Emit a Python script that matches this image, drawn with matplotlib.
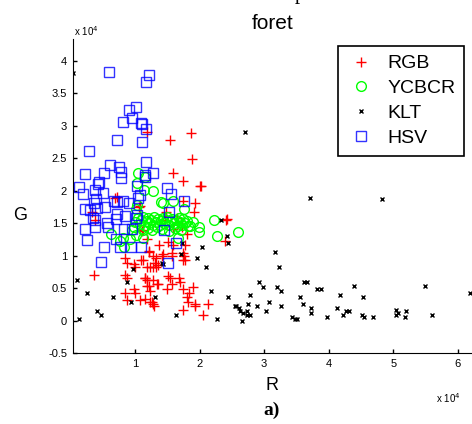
import numpy as np
import matplotlib
matplotlib.use("Agg")
import matplotlib.pyplot as plt

plt.rcParams['font.family'] = ['Liberation Sans', 'DejaVu Sans']

# valeurs (unites de 1e4)
rgb_r = [1.19, 1.54, 1.87, 1.88, 1.59, 1.74, 2.01, 1.74, 1.93, 1.91, 0.72, 1.08, 0.33, 0.38,
         1.48, 1.46, 1.65, 2.42, 2.39, 1.12, 1.59, 1.73, 1.19, 1.51, 1.59, 1.77, 1.80, 1.76,
         1.77, 1.37, 1.22, 1.28, 1.32, 1.31, 1.28, 1.32, 1.36, 1.23, 1.42, 1.43, 1.57, 1.57,
         1.74, 1.74, 1.12, 1.19, 1.51, 1.54, 1.68, 1.70, 1.15, 1.19, 1.28, 1.19, 1.36, 1.50,
         1.57, 1.90, 1.74, 1.83, 1.80, 1.23, 1.15, 1.28, 1.82, 1.93, 2.13, 1.74, 2.05, 1.08,
         0.36, 0.85, 0.88, 0.98, 1.00, 1.09, 0.85, 0.88, 0.98, 1.00, 1.15, 1.22, 0.85, 0.88,
         1.23, 1.22, 1.29, 1.34, 1.26, 0.69, 1.06, 1.11, 2.41, 2.02, 1.93]
rgb_g = [2.91, 2.78, 2.89, 2.49, 2.27, 2.15, 2.07, 1.84, 1.81, 1.68, 1.90, 1.76, 1.68, 1.55,
         1.67, 1.55, 1.58, 1.56, 1.22, 1.39, 1.41, 1.44, 1.25, 1.21, 1.16, 1.16, 1.34, 1.00,
         0.94, 1.16, 1.07, 0.99, 0.97, 0.88, 0.82, 0.82, 0.85, 0.82, 0.99, 1.02, 1.04, 1.00,
         1.04, 0.93, 0.93, 0.82, 0.68, 0.65, 0.66, 0.59, 0.66, 0.63, 0.62, 0.53, 0.56, 0.48,
         0.57, 0.51, 0.48, 0.42, 0.37, 0.46, 0.34, 0.26, 0.28, 0.23, 0.26, 0.17, 0.08, 0.31,
         0.70, 0.96, 0.88, 0.87, 0.82, 0.94, 0.70, 0.65, 0.49, 0.43, 0.65, 0.53, 0.42, 0.31,
         0.28, 1.05, 0.22, 0.56, 0.28, 1.89, 1.75, 1.38, 1.55, 2.07, 0.25]

ycbcr_r = [1.05, 1.03, 1.15, 1.14, 1.28, 1.40, 1.43, 1.59, 1.76, 1.03, 1.02, 2.22, 2.27, 2.60,
           1.99, 1.99, 0.63, 0.77, 0.83, 1.12, 1.67, 1.00, 0.98, 1.05, 1.08, 1.10, 1.13, 1.15,
           1.18, 1.20, 1.22, 1.25, 1.28, 1.30, 1.33, 1.35, 1.38, 1.40, 1.43, 1.45, 1.48, 1.50,
           1.53, 1.55, 1.58, 1.60, 1.63, 1.65, 1.68, 1.70, 1.73, 1.75, 1.78, 1.80, 1.85, 1.90,
           1.12, 1.20, 1.27, 1.34, 1.42, 1.52, 1.62, 1.72, 1.82, 0.95, 1.01, 0.82, 0.92]
ycbcr_g = [2.27, 2.12, 2.21, 2.02, 1.99, 1.82, 1.81, 1.84, 1.72, 1.78, 1.72, 1.55, 1.30, 1.36,
           1.44, 1.36, 1.33, 1.22, 1.13, 1.28, 1.28, 1.52, 1.44, 1.58, 1.49, 1.55, 1.60, 1.46,
           1.53, 1.58, 1.50, 1.55, 1.47, 1.60, 1.52, 1.56, 1.48, 1.54, 1.58, 1.50, 1.55, 1.60,
           1.47, 1.53, 1.57, 1.50, 1.55, 1.45, 1.58, 1.52, 1.48, 1.56, 1.50, 1.54, 1.46, 1.52,
           1.40, 1.42, 1.39, 1.44, 1.41, 1.38, 1.43, 1.40, 1.45, 1.40, 1.32, 1.28, 1.26]

klt_r = [0.04, 2.70, 0.10, 0.26, 0.13, 0.41, 0.47, 0.66, 0.88, 0.94, 1.31, 1.43, 1.63, 1.73,
         1.71, 1.96, 2.04, 2.10, 2.18, 2.27, 2.33, 2.42, 2.44, 2.44, 2.56, 2.61, 3.71, 4.82,
         3.17, 3.23, 2.92, 2.98, 2.78, 3.20, 3.26, 3.61, 3.66, 3.82, 3.88, 4.39, 5.49, 6.19,
         4.17, 4.53, 3.55, 3.07, 2.75, 2.89, 3.26, 3.60, 2.55, 2.63, 2.67, 2.73, 2.78, 2.73,
         3.03, 2.66, 3.43, 3.48, 3.51, 3.72, 3.72, 3.97, 4.13, 4.22, 4.27, 4.31, 4.51, 4.54,
         4.68, 5.04, 5.07, 5.04, 5.19, 5.18, 5.60, 0.97, 1.42]
klt_g = [3.82, 2.91, 0.63, 0.42, 0.03, 0.15, 0.08, 0.37, 0.59, 0.28, 0.37, 0.87, 0.09, 1.19,
         1.02, 0.97, 1.13, 0.82, 0.46, 0.03, 1.55, 1.31, 1.19, 0.36, 0.22, 0.20, 1.89, 1.87,
         1.05, 0.82, 0.59, 0.51, 0.39, 0.51, 0.45, 0.59, 0.59, 0.49, 0.49, 0.54, 0.54, 0.42,
         0.39, 0.37, 0.37, 0.28, 0.26, 0.22, 0.22, 0.26, 0.22, 0.15, 0.12, 0.14, 0.09, 0.09,
         0.14, 0.00, 0.06, 0.03, 0.02, 0.19, 0.12, 0.05, 0.20, 0.09, 0.15, 0.15, 0.09, 0.05,
         0.05, 0.17, 0.11, 0.09, 0.15, 0.05, 0.09, 0.79, 0.88]

hsv_r = [0.60, 1.17, 1.22, 0.91, 1.02, 0.95, 0.81, 1.09, 1.11, 1.17, 0.72, 1.11, 0.29, 1.17,
         0.61, 0.75, 0.78, 0.78, 0.52, 1.28, 0.23, 1.15, 1.15, 0.44, 0.43, 0.13, 0.20, 0.38,
         0.50, 0.40, 0.37, 0.41, 0.54, 0.67, 0.72, 0.81, 0.91, 1.08, 1.05, 1.03, 1.50, 1.56,
         1.76, 1.53, 0.23, 0.30, 0.35, 0.38, 0.57, 0.72, 0.71, 0.85, 1.02, 1.03, 0.58, 0.23,
         0.38, 0.83, 0.95, 0.26, 0.71, 0.52, 0.77, 0.94, 1.09, 1.45, 1.63, 0.47, 1.51]
hsv_g = [3.83, 3.68, 3.79, 3.25, 3.29, 3.12, 3.06, 3.04, 3.03, 2.95, 2.78, 2.75, 2.61, 2.44,
         2.40, 2.36, 2.29, 2.19, 2.27, 2.27, 2.26, 2.24, 2.21, 2.13, 2.10, 2.06, 1.95, 2.02,
         1.96, 1.87, 1.81, 1.73, 1.75, 1.84, 1.82, 1.84, 1.81, 1.93, 1.89, 2.07, 2.04, 1.95,
         1.84, 1.67, 1.72, 1.70, 1.58, 1.55, 1.51, 1.65, 1.56, 1.61, 1.58, 1.62, 1.44, 1.41,
         1.44, 1.41, 1.41, 1.24, 1.25, 1.13, 1.13, 1.13, 1.14, 1.39, 1.19, 0.91, 0.88]

fig = plt.figure(figsize=(4.72, 4.24), dpi=100)
ax = fig.add_axes([72.7 / 472, 71 / 424, 1 - 72.7 / 472, (353 - 39) / 424])

ax.plot(rgb_r, rgb_g, '+', color='#ff0000', ms=7, mew=1, label='RGB')
ax.plot(ycbcr_r, ycbcr_g, 'o', color='#00ff00', mfc='none', ms=7, mew=1, label='YCBCR')
ax.plot(klt_r, klt_g, 'x', color='black', ms=3.5, mew=1, label='KLT')
ax.plot(hsv_r, hsv_g, 's', color='#0000ff', mfc='none', ms=7, mew=1, alpha=0.8, label='HSV')

ax.set_xlim(0.036, 6.217)
ax.set_ylim(-0.5, 4.34)
ax.set_xticks([1, 2, 3, 4, 5, 6])
ax.set_yticks([-0.5, 0, 0.5, 1, 1.5, 2, 2.5, 3, 3.5, 4])
ax.set_yticklabels(['-0.5', '0', '0.5', '1', '1.5', '2', '2.5', '3', '3.5', '4'])
ax.tick_params(direction='in', length=3, width=1, labelsize=8, pad=4)
ax.spines['top'].set_visible(False)
ax.spines['right'].set_visible(False)

ax.set_title('foret', fontsize=15, pad=7)
fig.text(20 / 472, 1 - 216 / 424, 'G', fontsize=13, ha='center', va='center')
fig.text(272 / 472, 1 - 386 / 424, 'R', fontsize=13, ha='center', va='center')
fig.text(74 / 472, 1 - 31 / 424, r'x 10$^4$', fontsize=7, ha='left', va='center')
fig.text(436 / 472, 1 - 398 / 424, r'x 10$^4$', fontsize=7, ha='left', va='center')
fig.text(272 / 472, 1 - 410 / 424, 'a)', fontsize=14, fontweight='bold',
         family='Liberation Serif', ha='center', va='center')
# bas de la ligne de titre precedente, coupee par le bord comme sur l'original
fig.text(300 / 472, 1 + 1 / 424, 'p', fontsize=15, family='Liberation Serif',
         ha='center', va='baseline')

leg = ax.legend(loc='upper right', bbox_to_anchor=(464 / 472, 1 - 46 / 424),
                bbox_transform=fig.transFigure, fontsize=14, fancybox=False,
                edgecolor='black', framealpha=1, borderpad=0.45, labelspacing=0.37,
                handletextpad=0.6, handlelength=1.5, borderaxespad=0)
leg.get_frame().set_linewidth(1.2)

fig.savefig('out.png', dpi=100)
